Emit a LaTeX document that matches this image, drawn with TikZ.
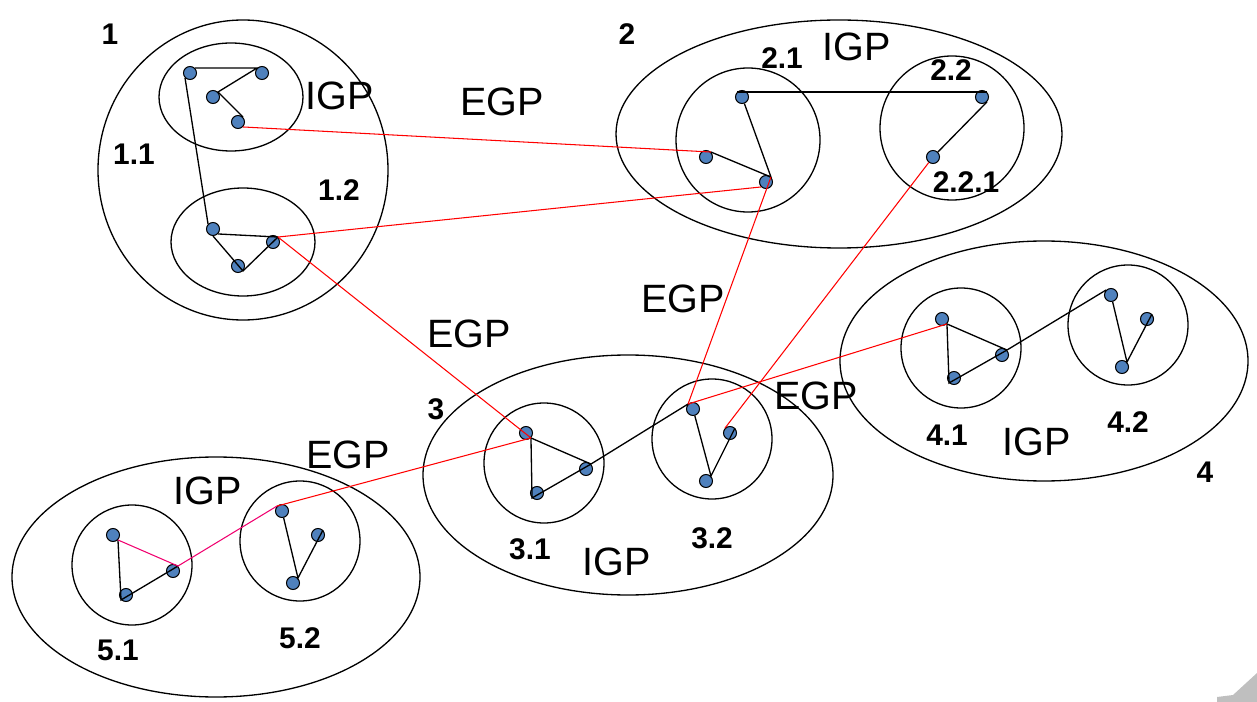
\documentclass[tikz,border=0pt]{standalone}
\usepackage{fontspec}
\setmainfont{Liberation Sans}
\definecolor{dotblue}{RGB}{79,129,189}
\definecolor{pinkred}{RGB}{240,0,110}

\begin{document}
\begin{tikzpicture}[x=0.02cm,y=-0.02cm,
  dot/.style={circle,draw,fill=dotblue,line width=0.6pt,minimum size=0.26cm,inner sep=0},
  area/.style={draw,line width=0.75pt},
  igp/.style={inner sep=0,font=\fontsize{22.5}{27}\selectfont},
  num/.style={inner sep=0,font=\bfseries\fontsize{17}{20}\selectfont},
  link/.style={line width=0.75pt},
  egp/.style={red,line width=0.6pt}]
\useasboundingbox (0,0) rectangle (1257,702);

% areas
\draw[area] (243,170) ellipse [x radius=145, y radius=150];
\draw[area] (231,97) ellipse [x radius=72, y radius=54];
\draw[area] (243,242) ellipse [x radius=72, y radius=54];
\draw[area] (839,134) ellipse [x radius=223, y radius=114];
\draw[area] (748,140) circle [radius=72];
\draw[area] (952,128) circle [radius=72];
\draw[area] (628,475) ellipse [x radius=205, y radius=120];
\draw[area] (544,463) circle [radius=60];
\draw[area] (712,439) circle [radius=60];
\draw[area] (1044,361) ellipse [x radius=204, y radius=120];
\draw[area] (961,348) circle [radius=60];
\draw[area] (1128,325) circle [radius=60];
\draw[area] (216,577) ellipse [x radius=204, y radius=120];
\draw[area] (132,565) circle [radius=60];
\draw[area] (300,541) circle [radius=60];

% routers
\node[dot] (r11a) at (190,73) {};
\node[dot] (r11b) at (262,73) {};
\node[dot] (r11c) at (213,97) {};
\node[dot] (r11d) at (238,122) {};
\node[dot] (r12a) at (213,229) {};
\node[dot] (r12b) at (273,242) {};
\node[dot] (r12c) at (238,266) {};
\node[dot] (r21a) at (742,97) {};
\node[dot] (r21b) at (706,157) {};
\node[dot] (r21c) at (766,182) {};
\node[dot] (r22a) at (982,97) {};
\node[dot] (r22b) at (933,157) {};
\node[dot] (r31a) at (526,433) {};
\node[dot] (r31b) at (586,469) {};
\node[dot] (r31c) at (537,493) {};
\node[dot] (r32a) at (693,409) {};
\node[dot] (r32b) at (730,433) {};
\node[dot] (r32c) at (706,481) {};
\node[dot] (r41a) at (942,319) {};
\node[dot] (r41b) at (1002,355) {};
\node[dot] (r41c) at (954,378) {};
\node[dot] (r42a) at (1111,295) {};
\node[dot] (r42b) at (1147,319) {};
\node[dot] (r42c) at (1122,367) {};
\node[dot] (r51a) at (113,535) {};
\node[dot] (r51b) at (173,571) {};
\node[dot] (r51c) at (126,595) {};
\node[dot] (r52a) at (282,511) {};
\node[dot] (r52b) at (318,535) {};
\node[dot] (r52c) at (293,583) {};

% IGP links
\draw[link] (r11a.north east) -- (r11b.north west) -- (r11c.north east) -- (r11d.north east);
\draw[link] (r11a.south west) -- (r12a.north west);
\draw[link] (r12a.south east) -- (r12b.north east);
\draw[link] (r12a.south) -- (r12c.south east) -- (r12b.north east);
\draw[link] (r21a.north west) -- (r22a.north east);
\draw[link] (r21a) -- (r21c.north east) -- (r21b.north east);
\draw[link] (r22a.south east) -- (r22b);
\draw[link] (r31a.south east) -- (r31b.north east);
\draw[link] (r31a.south east) -- (r31c.south west) -- (r31b.north east) -- (r32a.north west);
\draw[link] (r32a) -- (r32c.north east) -- (r32b.north east);
\draw[link] (r41a.south east) -- (r41b.north east);
\draw[link] (r41a.south east) -- (r41c.south west) -- (r41b.north east) -- (r42a.north west);
\draw[link] (r42a) -- (r42c.north east) -- (r42b.north east);
\draw[link] (r51a.south east) -- (r51c.south west) -- (r51b.north east);
\draw[link] (r52a) -- (r52c.north east) -- (r52b.north east);
\draw[pinkred,line width=0.6pt] (r51a.south east) -- (r51b.north east) -- (r52a.north west);

% EGP links
\draw[egp] (r11d.south east) -- (r21b.north east);
\draw[egp] (r12b.north east) -- (r21c.south west);
\draw[egp] (r12b.north east) -- (r31a.south east);
\draw[egp] (r21c.north east) -- (r32a.north west);
\draw[egp] (r22b) -- (r32b.north west);
\draw[egp] (r32a.north west) -- (r41a.south east);
\draw[egp] (r52a.north west) -- (r31a.south east);

% labels
\node[num] (l1) at (110,34) {1};
\node[num] (l11) at (134,154) {1.1};
\node[num] (l12) at (339,190) {1.2};
\node[igp] (igp1) at (340,96) {IGP};
\node[num] (l2) at (627,34) {2};
\node[num] (l21) at (782,58) {2.1};
\node[num] (l22) at (951,70) {2.2};
\node[num] (l221) at (966,182) {2.2.1};
\node[igp] (igp2) at (857,47) {IGP};
\node[num] (l3) at (436,409) {3};
\node[num] (l31) at (530,549) {3.1};
\node[num] (l32) at (712,538) {3.2};
\node[igp] (igp3) at (617,562) {IGP};
\node[num] (l4) at (1205,472) {4};
\node[num] (l41) at (947,435) {4.1};
\node[num] (l42) at (1128,422) {4.2};
\node[igp] (igp4) at (1037,442) {IGP};
\node[num] (l51) at (118,650) {5.1};
\node[num] (l52) at (300,638) {5.2};
\node[igp] (igp5) at (208,491) {IGP};
\node[igp] (egp1) at (502,102) {EGP};
\node[igp] (egp2) at (469,334) {EGP};
\node[igp] (egp3) at (683,299) {EGP};
\node[igp] (egp4) at (816,396) {EGP};
\node[igp] (egp5) at (348,455) {EGP};

% page corner
\fill[black!25] (1217,702) -- (1217,697) -- (1233,695) -- (1257,673) -- (1257,702) -- cycle;
\end{tikzpicture}
\end{document}
